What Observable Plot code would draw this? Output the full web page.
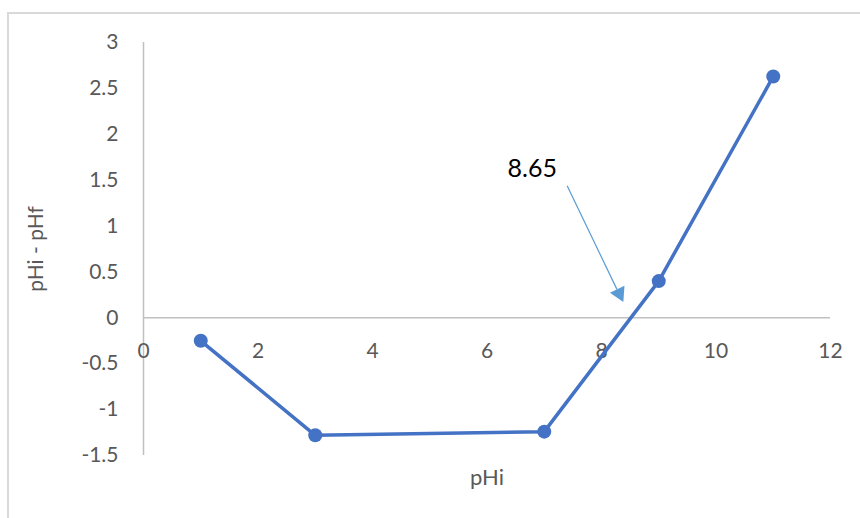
<!DOCTYPE html>
<html>
<head>
<meta charset="utf-8">
<script src="https://cdn.jsdelivr.net/npm/d3@7"></script>
<script src="https://cdn.jsdelivr.net/npm/@observablehq/plot@0.6"></script>
<style>
  html, body { margin: 0; padding: 0; background: #fff; }
  #chart { position: relative; width: 860px; height: 518px; overflow: hidden; }
  #edge { position: absolute; left: 7px; top: 12px; width: 900px; height: 600px;
          border-left: 2px solid #d9d9d9; border-top: 2px solid #d9d9d9; }
  #chart svg { position: absolute; left: 0; top: 0; }
</style>
</head>
<body>
<div id="chart"><div id="edge"></div></div>
<script>
// Measured initial pH and the resulting pH shift
const pHi = [1, 3, 7, 9, 11];
const delta = [-0.25, -1.28, -1.24, 0.40, 2.63];

// Axis ticks
const xTicks = [0, 2, 4, 6, 8, 10, 12];
const yTicks = [-1.5, -1, -0.5, 0, 0.5, 1, 1.5, 2, 2.5, 3];

// Callout marking the zero crossing
const calloutText = ["8.65"];
const calloutTextAt = [6.79, 1.62];
const calloutFrom = [7.40, 1.44];
const calloutTo = [8.27, 0.31];
const calloutHead = [8.31, 0.265];

const points = pHi.map((x, i) => ({x, y: delta[i]}));
const ink = "#4472C4";
const callColor = "#5B9BD5";
const tickColor = "#595959";

const chart = Plot.plot({
  width: 860,
  height: 518,
  marginLeft: 143,
  marginRight: 30,
  marginTop: 42,
  marginBottom: 63,
  style: {fontFamily: "Lato, 'Open Sans', sans-serif", background: "transparent"},
  x: {domain: [0, 12], axis: null},
  y: {domain: [-1.5, 3], axis: null},
  marks: [
    Plot.ruleY([0], {stroke: "#c0c0c0", strokeWidth: 1.5}),
    Plot.ruleX([0], {stroke: "#c0c0c0", strokeWidth: 1.5}),
    Plot.text(yTicks, {x: 0, y: d => d, text: d => String(d), dx: -25, textAnchor: "end",
      fill: tickColor, fontSize: 21}),
    Plot.text(xTicks, {x: d => d, y: 0, text: d => String(d), dy: 33,
      fill: tickColor, fontSize: 21}),
    Plot.text(["pHi - pHf"], {frameAnchor: "left", textAnchor: "middle", rotate: -90, dx: -107,
      fill: tickColor, fontSize: 21}),
    Plot.text(["pHi"], {frameAnchor: "bottom", dy: 29, fill: tickColor, fontSize: 22}),
    Plot.line(points, {x: "x", y: "y", stroke: ink, strokeWidth: 3.5}),
    Plot.dot(points, {x: "x", y: "y", r: 7, fill: ink, stroke: "none"}),
    Plot.link([0], {x1: () => calloutFrom[0], y1: () => calloutFrom[1],
      x2: () => calloutTo[0], y2: () => calloutTo[1], stroke: callColor, strokeWidth: 1.2}),
    Plot.dot([0], {x: () => calloutHead[0], y: () => calloutHead[1], symbol: "triangle",
      r: 6, rotate: 154, fill: callColor, stroke: "none"}),
    Plot.text(calloutText, {x: () => calloutTextAt[0], y: () => calloutTextAt[1],
      text: d => d, fill: "#000", fontSize: 25})
  ]
});
document.getElementById("chart").appendChild(chart);
</script>
</body>
</html>
